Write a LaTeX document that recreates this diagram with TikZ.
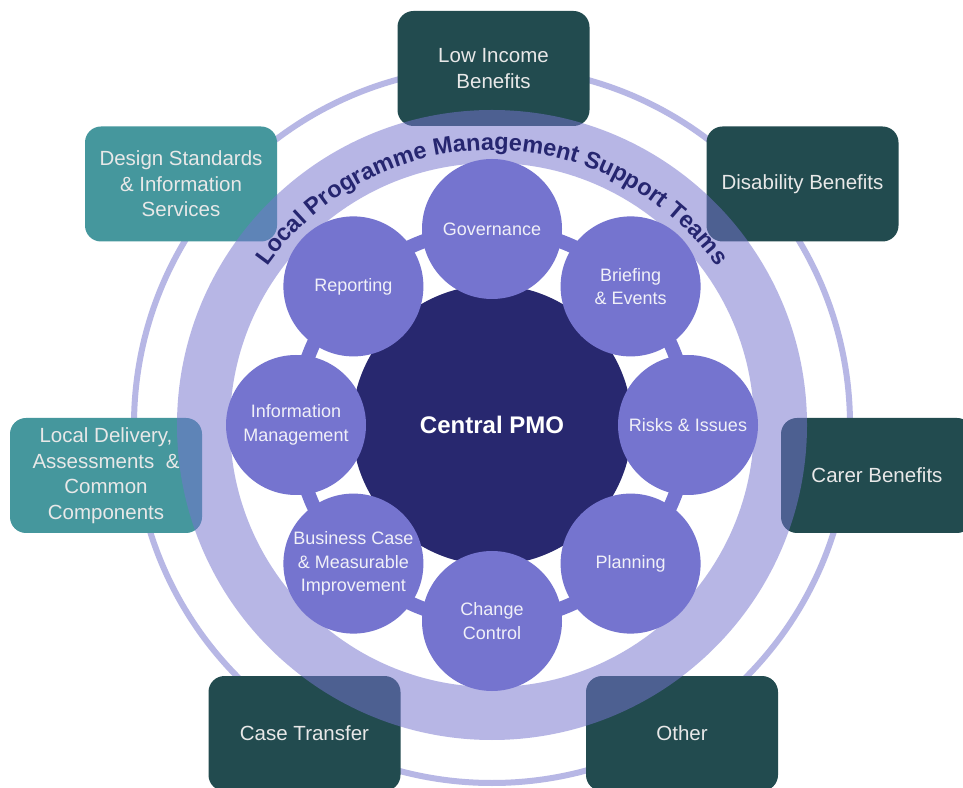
\documentclass[tikz,border=0pt]{standalone}
\usepackage{fontspec}
\setmainfont{Liberation Sans}
\usetikzlibrary{decorations.text,calc}
\definecolor{circ}{HTML}{7574CF}
\definecolor{core}{HTML}{28286F}
\definecolor{thinring}{HTML}{B7B7E5}
\definecolor{darkbox}{HTML}{224B4F}
\definecolor{tealbox}{HTML}{45979D}
\definecolor{navytxt}{HTML}{262670}
\definecolor{boxtxt}{HTML}{E8E8E8}
\definecolor{circtxt}{HTML}{F0F0F8}
\tikzset{
  x=1pt, y=1pt,
  sat/.style={circle, fill=circ, minimum size=140pt, inner sep=0pt, align=center,
    text=circtxt, font=\fontsize{18}{23.5}\selectfont},
  benefit/.style={rounded corners=16pt, fill=darkbox, minimum width=192pt, minimum height=115pt,
    inner sep=0pt, align=center, text=boxtxt, font=\fontsize{20.5}{25.5}\selectfont},
  service/.style={benefit, fill=tealbox},
}
\begin{document}
\begin{tikzpicture}
\clip (0,0) rectangle (963,787);
\fill[white] (0,0) rectangle (963,787);
\coordinate (C) at (492,362);
% thin outer ring
\draw[thinring, line width=6pt] (C) circle[radius=358];
% satellite boxes
\node[benefit] (low) at (493.5,718.5) {Low Income\\Benefits};
\node[service] (design) at (181,603) {Design Standards\\\& Information\\Services};
\node[benefit] (disab) at (802.5,603) {Disability Benefits};
\node[service] (local) at (106,311.5) {Local Delivery,\\Assessments \ \&\\Common\\Components};
\node[benefit] (carer) at (877,311.5) {Carer Benefits};
\node[benefit] (case) at (304.5,53.5) {Case Transfer};
\node[benefit] (other) at (682,53.5) {Other};
% translucent band
\fill[circ, fill opacity=0.52, even odd rule] (C) circle[radius=315] (C) circle[radius=262];
% curved label
\path[decorate, decoration={text along path, text align=center, text color=navytxt,
  text={|\fontsize{23.5}{23.5}\selectfont\bfseries|Local Programme Management Support Teams}}]
  (C) ++(152:275) arc[start angle=152, end angle=28, radius=275];
% connecting ring
\draw[circ, line width=14pt] (C) circle[radius=196];
% centre
\node[circle, fill=core, minimum size=280pt, inner sep=0pt, text=white,
  font=\fontsize{24}{28}\selectfont\bfseries] (pmo) at (C) {Central PMO};
% satellites
\node[sat] (gov) at ($(C)+(90:196)$) {Governance};
\node[sat] (brief) at ($(C)+(45:196)$) {Briefing\\\& Events};
\node[sat] (risk) at ($(C)+(0:196)$) {Risks \& Issues};
\node[sat] (plan) at ($(C)+(-45:196)$) {Planning};
\node[sat] (change) at ($(C)+(-90:196)$) {Change\\Control};
\node[sat] (bus) at ($(C)+(-135:196)$) {Business Case\\\& Measurable\\Improvement};
\node[sat] (info) at ($(C)+(180:196)$) {Information\\Management};
\node[sat] (rep) at ($(C)+(135:196)$) {Reporting};
\end{tikzpicture}
\end{document}
